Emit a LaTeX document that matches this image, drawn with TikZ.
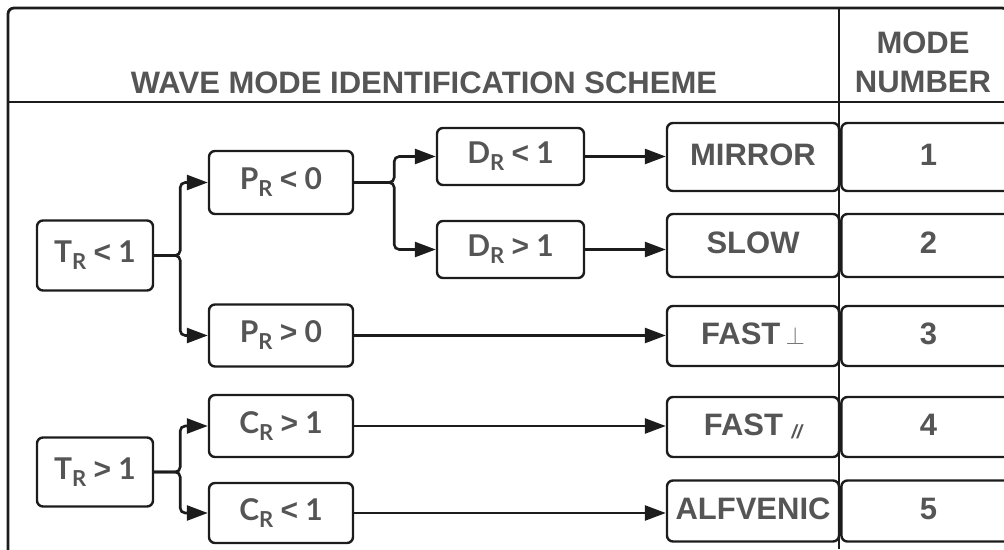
\documentclass[tikz,border=0pt]{standalone}
\usepackage{fontspec}
\setmainfont{Liberation Sans}
\newfontfamily\condfont{Lato}
\usetikzlibrary{arrows.meta, positioning}
\definecolor{txtgray}{RGB}{85,85,85}
\definecolor{linegray}{RGB}{28,28,28}
\newcommand{\subr}{\raisebox{-7pt}{\fontsize{22}{22}\selectfont R}}
\newcommand{\cmp}[1]{{\rmfamily\bfseries #1}}

\begin{document}
\begin{tikzpicture}[x=1pt, y=-1pt,
    box/.style={draw=linegray, line width=2.4pt, rounded corners=6pt, text=txtgray, inner sep=0pt},
    cond/.style={box, font=\condfont\bfseries\fontsize{30}{30}\selectfont},
    mode/.style={box, minimum width=172pt, text height=22pt, text depth=6pt, font=\bfseries\fontsize{31}{31}\selectfont},
    numbox/.style={mode, minimum width=174pt},
    arr/.style={draw=linegray, line width=2.6pt, -{Triangle[length=21pt,width=15pt]}},
    fork/.style={arr, rounded corners=5pt}]
  \useasboundingbox (0,0) rectangle (1004,549);
  \clip (0,0) rectangle (1004,549);
  \draw[linegray, line width=2.8pt, rounded corners=6pt] (8,8) rectangle (1008,556);
  \draw[linegray, line width=2.8pt] (8,102) -- (1004,102);
  \draw[linegray, line width=2.8pt] (839,8) -- (839,549);
  \node[text=txtgray, anchor=base, font=\bfseries\fontsize{31}{31}\selectfont] (title) at (424,93) {WAVE MODE IDENTIFICATION SCHEME};
  \node[text=txtgray, align=center, inner sep=0pt, font=\bfseries\fontsize{31}{39}\selectfont] (numtitle) at (923,62) {MODE\\NUMBER};

  \node[cond, minimum width=116pt, minimum height=70pt] (tlt) at (95,255.5) {T\subr{} \cmp{<} 1};
  \node[cond, minimum width=116pt, minimum height=69pt] (tgt) at (95,472) {T\subr{} \cmp{>} 1};
  \node[cond, minimum width=144pt, minimum height=63pt] (plt) at (281,182.5) {P\subr{} \cmp{<} 0};
  \node[cond, minimum width=144pt, minimum height=62pt] (pgt) at (281,335.5) {P\subr{} \cmp{>} 0};
  \node[cond, minimum width=144pt, minimum height=62pt] (cgt) at (281,426) {C\subr{} \cmp{>} 1};
  \node[cond, minimum width=144pt, minimum height=60pt] (clt) at (281,513) {C\subr{} \cmp{<} 1};
  \node[cond, minimum width=147pt, minimum height=57pt] (dlt) at (510.5,156.5) {D\subr{} \cmp{<} 1};
  \node[cond, minimum width=147pt, minimum height=57pt] (dgt) at (510.5,249.5) {D\subr{} \cmp{>} 1};

  \node[mode, minimum height=68pt] (mirror) at (753,157) {MIRROR};
  \node[mode, minimum height=63pt] (slow) at (753,245.5) {SLOW};
  \node[mode, minimum height=60pt] (fastp) at (753,336) {FAST\,{\color{txtgray!80}$\perp$}};
  \node[mode, minimum height=60pt] (fastpar) at (753,427) {FAST \raisebox{-3pt}{\fontsize{19}{19}\selectfont\itshape //}};
  \node[mode, minimum height=61pt] (alfv) at (753,511) {ALFVENIC};
  \foreach \lbl/\h [count=\i] in {mirror/68, slow/63, fastp/60, fastpar/60, alfv/61}
    \node[numbox, minimum height=\h pt, anchor=west] (num\i) at (\lbl.east) {\i};

  \draw[fork] (tlt.east) -- ++(26,0) |- (plt.west);
  \draw[fork] (tlt.east) -- ++(26,0) |- (pgt.west);
  \draw[fork] (tgt.east) -- ++(26,0) |- (cgt.west);
  \draw[fork] (tgt.east) -- ++(26,0) |- (clt.west);
  \draw[fork] (plt.east) -- ++(40,0) |- (dlt.west);
  \draw[fork] (plt.east) -- ++(40,0) |- (dgt.west);
  \draw[arr] (dlt.east) -- (dlt.east -| mirror.west);
  \draw[arr] (dgt.east) -- (dgt.east -| slow.west);
  \draw[arr] (pgt.east) -- (pgt.east -| fastp.west);
  \draw[arr] (cgt.east) -- (cgt.east -| fastpar.west);
  \draw[arr] (clt.east) -- (clt.east -| alfv.west);
\end{tikzpicture}
\end{document}
